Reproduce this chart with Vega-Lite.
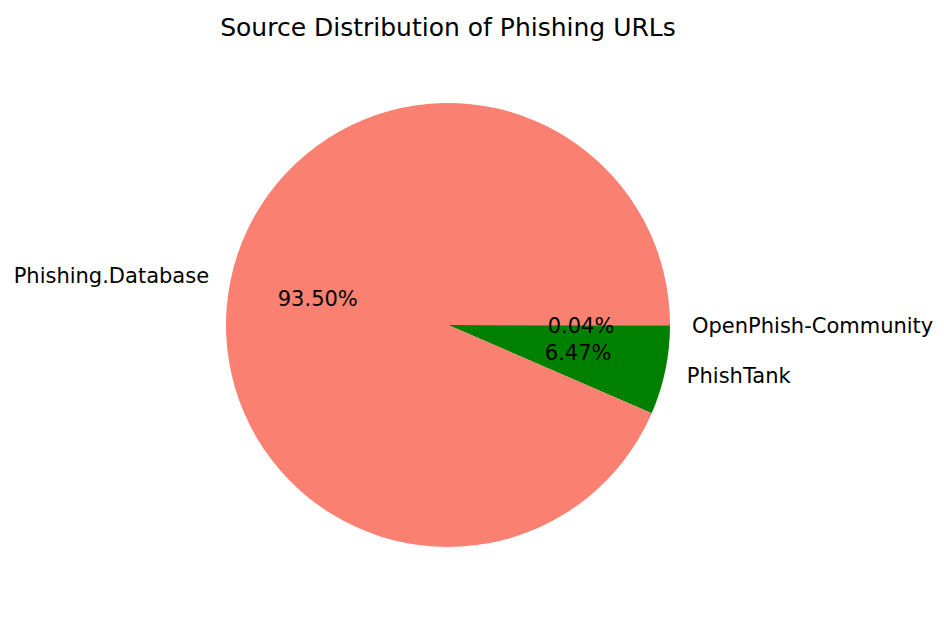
{
  "$schema": "https://vega.github.io/schema/vega-lite/v6.json",
  "autosize": {"type": "none"},
  "width": 896,
  "height": 584,
  "padding": {"left": 0, "top": 33, "right": 48, "bottom": 0},
  "background": "white",
  "title": {
    "text": "Source Distribution of Phishing URLs",
    "font": "DejaVu Sans",
    "fontSize": 25,
    "fontWeight": "normal",
    "color": "#000000",
    "anchor": "middle",
    "offset": -8
  },
  "data": {
    "values": [
      {"source": "OpenPhish-Community", "pct": 0.04, "order": 1, "label": "0.04%", "side": "right"},
      {"source": "PhishTank", "pct": 6.47, "order": 2, "label": "6.47%", "side": "right"},
      {"source": "Phishing.Database", "pct": 93.50, "order": 3, "label": "93.50%", "side": "left"}
    ]
  },
  "encoding": {
    "theta": {"field": "pct", "type": "quantitative", "stack": true, "scale": {"range": [1.5707963, 7.8539816]}},
    "order": {"field": "order", "type": "quantitative", "sort": "ascending"}
  },
  "layer": [
    {
      "mark": {"type": "arc", "outerRadius": 222, "stroke": null},
      "encoding": {
        "color": {
          "field": "source",
          "type": "nominal",
          "scale": {"domain": ["Phishing.Database", "PhishTank", "OpenPhish-Community"], "range": ["#FA8072", "#008000", "#1f77b4"]},
          "legend": null
        }
      }
    },
    {
      "mark": {"type": "text", "radius": 133, "font": "DejaVu Sans", "fontSize": 21, "color": "#000000", "align": "center", "baseline": "middle", "dy": 2},
      "encoding": {"text": {"field": "label"}}
    },
    {
      "mark": {"type": "text", "radius": 244, "font": "DejaVu Sans", "fontSize": 21, "color": "#000000", "align": "right", "baseline": "middle", "dy": 2},
      "encoding": {"text": {"condition": {"test": "datum.side === 'left'", "field": "source"}, "value": ""}}
    },
    {
      "mark": {"type": "text", "radius": 244, "font": "DejaVu Sans", "fontSize": 21, "color": "#000000", "align": "left", "baseline": "middle", "dy": 2},
      "encoding": {"text": {"condition": {"test": "datum.side === 'right'", "field": "source"}, "value": ""}}
    }
  ]
}
